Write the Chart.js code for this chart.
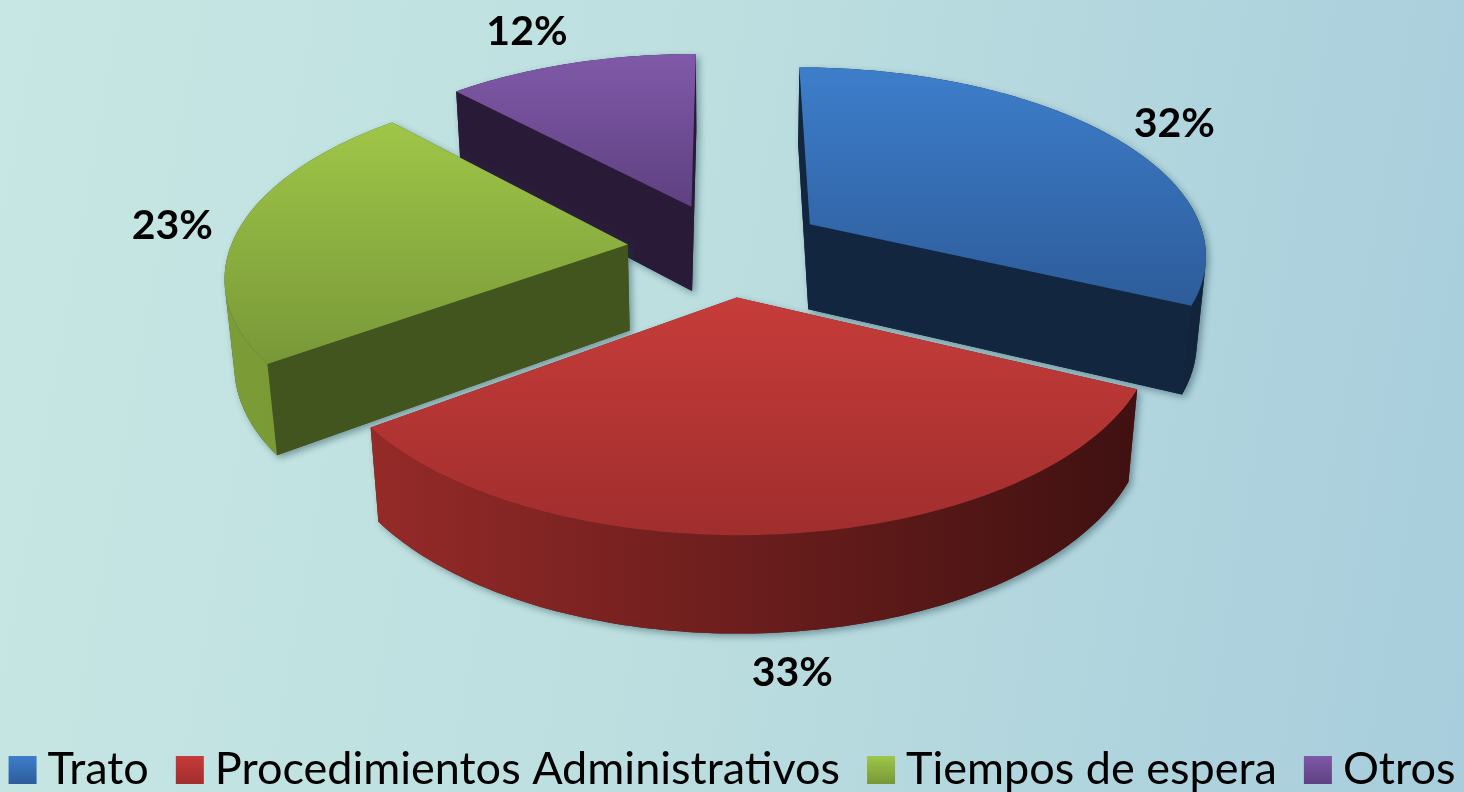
<!DOCTYPE html>
<html>
<head>
<meta charset="utf-8">
<script src="https://cdn.jsdelivr.net/npm/chart.js@4.4.0/dist/chart.umd.min.js"></script>
<style>
  html, body { margin: 0; padding: 0; }
  body {
    width: 1464px; height: 792px; overflow: hidden;
    background: linear-gradient(100deg, #c6e7e3 0%, #bddfe0 45%, #a8cddc 100%);
  }
  #chart { display: block; }
</style>
</head>
<body>
<canvas id="chart" width="1464" height="792"></canvas>
<script>
// data
var labels = ["Trato", "Procedimientos Administrativos", "Tiempos de espera", "Otros"];
var values = [32, 33, 23, 12];

// colours per slice
var topLight  = ["#3d7ecb", "#c63c3a", "#9fc648", "#8059a8"];
var topDark   = ["#2d5c9a", "#a02e2d", "#789838", "#5e4181"];
var wallLight = ["#1a3356", "#9a2c2a", "#7c9c37", "#3a2a50"];
var wallDark  = ["#12243c", "#3e1010", "#5a7a28", "#241830"];
var faceColor = ["#13263f", "#5a1818", "#43551f", "#291b37"];

// camera, in units of the pie radius
var TILT = 28 * Math.PI / 180;
var CAM_DIST = 6.0;
var FOCAL = 6.82;
var DEPTH = 0.25;
var LABEL_GAP = 27;

var pie3d = {
  id: "pie3d",
  beforeDatasetsDraw: function(chart) {
    var ctx = chart.ctx;
    var arcs = chart.getDatasetMeta(0).data;
    var R = arcs[0].outerRadius;
    var cx = arcs[0].x, cy = arcs[0].y;
    var D = CAM_DIST * R, F = FOCAL * R, t = DEPTH * R;
    var cs = Math.cos(TILT), sn = Math.sin(TILT);

    function proj(X, Y, Z) {
      var dist = D - Y * cs - Z * sn;
      var up = -Y * sn + Z * cs;
      return [cx + F * X / dist, cy - F * up / dist];
    }
    function facing(nx, ny, px, py) {
      return nx * (0 - px) + ny * (D * cs - py) > 0;
    }
    function poly(pts) {
      ctx.moveTo(pts[0][0], pts[0][1]);
      for (var k = 1; k < pts.length; k++) ctx.lineTo(pts[k][0], pts[k][1]);
      ctx.closePath();
    }

    var slices = arcs.map(function(arc, i) {
      var mid = (arc.startAngle + arc.endAngle) / 2;
      var e = arc.options.offset || 0;
      return {i: i, a0: arc.startAngle, a1: arc.endAngle, mid: mid,
              ox: e * Math.cos(mid), oy: e * Math.sin(mid)};
    });
    slices.sort(function(a, b) { return a.oy - b.oy; });

    slices.forEach(function(s) {
      var n = Math.max(4, Math.ceil((s.a1 - s.a0) / (Math.PI / 180)));
      var angs = [];
      for (var k = 0; k <= n; k++) angs.push(s.a0 + (s.a1 - s.a0) * k / n);
      function rim(a, z) { return proj(s.ox + R * Math.cos(a), s.oy + R * Math.sin(a), z); }

      var top = [proj(s.ox, s.oy, 0)];
      angs.forEach(function(a) { top.push(rim(a, 0)); });

      // outer wall, only the parts turned to the camera
      var walls = [], run = null;
      for (var k = 0; k < n; k++) {
        var am = (angs[k] + angs[k + 1]) / 2;
        var vis = facing(Math.cos(am), Math.sin(am),
          s.ox + R * Math.cos(am), s.oy + R * Math.sin(am));
        if (vis) {
          if (!run) { run = [angs[k]]; walls.push(run); }
          run.push(angs[k + 1]);
        } else run = null;
      }
      var wallPolys = walls.map(function(r) {
        var p = r.map(function(a) { return rim(a, 0); });
        for (var k = r.length - 1; k >= 0; k--) p.push(rim(r[k], -t));
        return p;
      });

      // cut faces
      var faces = [];
      [[s.a0, Math.sin(s.a0), -Math.cos(s.a0)], [s.a1, -Math.sin(s.a1), Math.cos(s.a1)]].forEach(function(f) {
        var a = f[0];
        if (facing(f[1], f[2], s.ox + R / 2 * Math.cos(a), s.oy + R / 2 * Math.sin(a))) {
          faces.push([proj(s.ox, s.oy, 0), rim(a, 0), rim(a, -t), proj(s.ox, s.oy, -t)]);
        }
      });

      // silhouette with a soft shadow
      ctx.save();
      ctx.shadowColor = "rgba(20, 60, 70, 0.45)";
      ctx.shadowBlur = 7;
      ctx.shadowOffsetX = 3;
      ctx.shadowOffsetY = 3;
      ctx.fillStyle = faceColor[s.i];
      ctx.beginPath();
      poly(top);
      wallPolys.forEach(poly);
      faces.forEach(poly);
      ctx.fill();
      ctx.restore();

      faces.forEach(function(p) {
        ctx.fillStyle = faceColor[s.i];
        ctx.beginPath(); poly(p); ctx.fill();
      });

      var xl = proj(s.ox - R, s.oy, 0)[0], xr = proj(s.ox + R, s.oy, 0)[0];
      wallPolys.forEach(function(p) {
        var g = ctx.createLinearGradient(xl, 0, xr, 0);
        g.addColorStop(0, wallLight[s.i]);
        g.addColorStop(1, wallDark[s.i]);
        ctx.fillStyle = g;
        ctx.beginPath(); poly(p); ctx.fill();
      });

      var ys = top.map(function(p) { return p[1]; });
      var gy = ctx.createLinearGradient(0, Math.min.apply(null, ys), 0, Math.max.apply(null, ys));
      gy.addColorStop(0, topLight[s.i]);
      gy.addColorStop(1, topDark[s.i]);
      ctx.fillStyle = gy;
      ctx.beginPath(); poly(top); ctx.fill();
    });

    // percentage labels, just outside the rim at the middle of each slice
    var total = values.reduce(function(a, b) { return a + b; }, 0);
    ctx.save();
    ctx.font = "bold 41px Lato";
    ctx.fillStyle = "#000";
    ctx.textAlign = "center";
    ctx.textBaseline = "middle";
    slices.forEach(function(s) {
      var c = Math.cos(s.mid), sgn = Math.sin(s.mid);
      var wallVis = facing(c, sgn, s.ox + R * c, s.oy + R * sgn);
      var anchor = proj(s.ox + R * c, s.oy + R * sgn, wallVis ? -t : 0);
      var ctr = proj(s.ox, s.oy, 0);
      var ux = anchor[0] - ctr[0], uy = anchor[1] - ctr[1];
      var len = Math.sqrt(ux * ux + uy * uy);
      ux /= len; uy /= len;
      var txt = Math.round(values[s.i] / total * 100) + "%";
      var hw = ctx.measureText(txt).width / 2, hh = 14;
      ctx.fillText(txt, anchor[0] + ux * (LABEL_GAP + hw), anchor[1] + uy * (LABEL_GAP + hh));
    });
    ctx.restore();
    return false;
  },
  afterDraw: function(chart) {
    var ctx = chart.ctx;
    var box = 28, gapText = 11, gapItem = 27, base = 784;
    ctx.save();
    ctx.font = "45px Lato";
    var widths = labels.map(function(l) { return ctx.measureText(l).width; });
    var total = widths.reduce(function(s, w) { return s + box + gapText + w; }, 0) + gapItem * (labels.length - 1);
    var x = (chart.width - total) / 2;
    labels.forEach(function(l, i) {
      var g = ctx.createLinearGradient(0, base - box, 0, base);
      g.addColorStop(0, topLight[i]);
      g.addColorStop(1, topDark[i]);
      ctx.fillStyle = g;
      ctx.fillRect(x, base - box, box, box);
      ctx.fillStyle = "#000";
      ctx.textBaseline = "alphabetic";
      ctx.fillText(l, x + box + gapText, base);
      x += box + gapText + widths[i] + gapItem;
    });
    ctx.restore();
  }
};

var chart = new Chart(document.getElementById("chart"), {
  type: "pie",
  data: {
    labels: labels,
    datasets: [{
      data: values,
      backgroundColor: topLight,
      borderWidth: 0,
      offset: 88,
      radius: 350
    }]
  },
  options: {
    responsive: false,
    animation: false,
    events: [],
    layout: { padding: { bottom: 294, right: 10 } },
    plugins: { legend: { display: false }, tooltip: { enabled: false } }
  },
  plugins: [pie3d]
});
</script>
</body>
</html>
